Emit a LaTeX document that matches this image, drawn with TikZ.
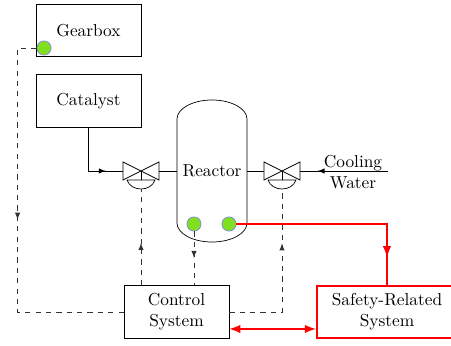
\documentclass[tikz,border=0pt]{standalone}
\usetikzlibrary{decorations.markings}

\definecolor{sensorgreen}{RGB}{128,224,32}
\definecolor{sensorrim}{RGB}{130,130,235}

\tikzset{
  midarrow/.style={postaction={decorate}, decoration={markings, mark=at position #1 with {\arrow{>}}}},
  valve/.pic={
    \draw (-18,-9) -- (18,9) -- (18,-9) -- (-18,9) -- cycle;
    \draw (0,0) -- (0,9);
    \draw (-14,9) -- (14,9) .. controls (10,21) and (-10,21) .. (-14,9);
    \coordinate (-w) at (-18,0);
    \coordinate (-e) at (18,0);
    \coordinate (-s) at (0,18);
  }
}

\begin{document}
\begin{tikzpicture}[x=0.578pt, y=-0.578pt, >=latex]
            \tikzstyle{block} = [rectangle, draw, minimum width=60.7pt, minimum height=30.3pt, align=center]
            \tikzstyle{safety} = [block, draw=red, line width=1.2pt, minimum width=81pt]
            \tikzstyle{sensor} = [circle, draw=sensorrim, fill=sensorgreen, minimum size=8.2pt, inner sep=0pt]
            \tikzstyle{signal} = [dashed, draw=black!80]
            \tikzstyle{trip} = [red, line width=1.2pt]

            \useasboundingbox (0,0) rectangle (451,345);

            \node (gearbox) [block] at (88.5,30.5) {Gearbox};
            \node (catalyst) [block] at (88.5,101) {Catalyst};
            \node (control) [block] at (176.5,312) {Control\\System};
            \node (safety) [safety] at (387,312) {Safety-Related\\System};

            % reactor vessel
            \draw (177,119) -- (177,223) arc[start angle=180, end angle=0, x radius=35, y radius=19]
                -- (247,119) arc[start angle=0, end angle=-180, x radius=35, y radius=19] -- cycle;
            \node (reactor) [minimum width=40.5pt, inner sep=0pt] at (212,171) {Reactor};

            \pic (vl) at (141,171) {valve};
            \pic (vr) at (282,171) {valve};

            \node (cooling) [align=center] at (353,172) {Cooling\\Water};
            \coordinate (cwin) at (388,171);

            \node (gbsensor) [sensor] at (44,48) {};
            \node (tsensor) [sensor] at (194,224) {};
            \node (psensor) [sensor] at (229,224) {};

            % process lines
            \draw [midarrow=0.78] (catalyst.south) |- (vl-w);
            \draw (vl-e) -- (reactor.west);
            \draw (reactor.east) -- (vr-w);
            \draw [midarrow=0.8] (cwin) -- (vr-e);

            % control signals
            \draw [signal, midarrow=0.49] (gbsensor.west) -- ++(-19,0) |- (control.west);
            \draw [signal, midarrow=0.44] (control.north -| vl-s) -- (vl-s);
            \draw [signal, midarrow=0.49] (tsensor.south) -- (tsensor.south |- control.north);
            \draw [signal, midarrow=0.69] (control.east) -| (vr-s);

            % safety lines
            \draw [trip, midarrow=0.87] (psensor.east) -| (safety.north);
            \draw [trip, <->] ([yshift=-9.8pt]control.east) -- ([yshift=-9.8pt]safety.west);
        \end{tikzpicture}
\end{document}
